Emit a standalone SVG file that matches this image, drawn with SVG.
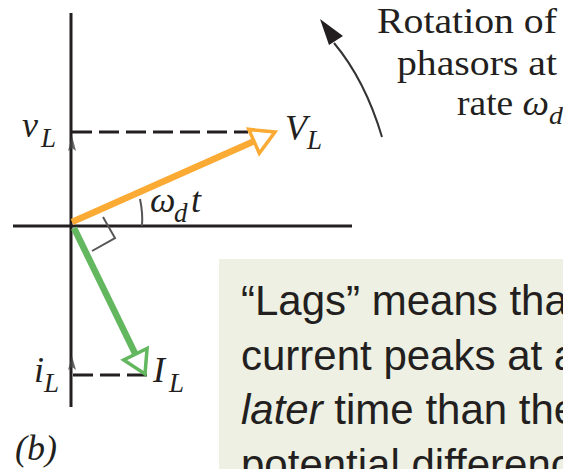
<svg xmlns="http://www.w3.org/2000/svg" width="563" height="469" viewBox="0 0 563 469">
<style>
.ax{stroke:#231F20;stroke-width:3;fill:none}
.dash{stroke:#231F20;stroke-width:3;stroke-dasharray:20 7;fill:none}
.serif{font-family:"Liberation Serif","Times New Roman",serif;fill:#231F20}
.it{font-style:italic}
.sans{font-family:"Liberation Sans",Arial,sans-serif;font-size:42px;fill:#231F20}
.mark{stroke:#555;stroke-width:2;fill:none}
.tick{fill:#444;opacity:0.8}
</style>
<rect width="563" height="469" fill="#fff"/>
<g id="note-box">
<rect x="219" y="259" width="344" height="210" fill="#EDF0E2"/>
<text class="sans" x="241" y="315">“Lags” means tha</text>
<text class="sans" x="241" y="369.5">current peaks at a</text>
<text class="sans" x="241" y="424"><tspan font-style="italic">later</tspan> time than the</text>
<text class="sans" x="241" y="478.5">potential differenc</text>
</g>
<g id="axes">
<line class="ax" x1="71" y1="13" x2="71" y2="407"/>
<line class="ax" x1="13" y1="226" x2="352" y2="226"/>
</g>
<g id="connectors">
<line class="dash" x1="72" y1="132" x2="248" y2="132"/>
<line class="dash" x1="73" y1="375" x2="148" y2="375"/>
<path class="tick" d="M72,136 L76,151 L72,148 L68,151 Z"/>
<path class="tick" d="M72,356 L76,370 L72,367 L68,370 Z"/>
<line x1="72" y1="222" x2="254" y2="141.3" stroke="#FBAA34" stroke-width="6.5"/>
<path d="M275,132 L259.3,153.2 L248.7,129.4 Z" fill="#fff" stroke="#FBAA34" stroke-width="3.5" stroke-linejoin="miter"/>
<line x1="74" y1="228" x2="135.4" y2="354.2" stroke="#63B75F" stroke-width="6.5"/>
<path d="M145,374 L147.1,348.5 L123.7,359.9 Z" fill="#fff" stroke="#63B75F" stroke-width="3.5"/>
<polyline class="mark" points="103,217 115,238 92,251"/>
<path class="mark" d="M142,226 Q143,213 140,199"/>
<path d="M382,137 Q365,80 334,43" stroke="#333" stroke-width="2" fill="none"/>
<path d="M320,19 L343,36 L329,45 Z" fill="#231F20"/>
</g>
<g id="labels">
<text class="serif it" x="22" y="137" font-size="36">v</text>
<text class="serif it" x="41" y="147" font-size="27">L</text>
<text class="serif it" x="285" y="140" font-size="36">V</text>
<text class="serif it" x="307" y="149" font-size="27">L</text>
<text class="serif it" x="150" y="212" font-size="36">ω</text>
<text class="serif it" x="174" y="222" font-size="27">d</text>
<text class="serif it" x="191" y="212" font-size="36">t</text>
<text class="serif it" x="34" y="382" font-size="36">i</text>
<text class="serif it" x="44" y="392" font-size="27">L</text>
<text class="serif it" x="153" y="382" font-size="36">I</text>
<text class="serif it" x="169" y="392" font-size="27">L</text>
<text class="serif it" x="15" y="460" font-size="36">(b)</text>
</g>
<g id="rotation-note">
<text class="serif" x="377" y="33" font-size="35" textLength="180" lengthAdjust="spacingAndGlyphs">Rotation of</text>
<text class="serif" x="397" y="75" font-size="35" textLength="160" lengthAdjust="spacingAndGlyphs">phasors at</text>
<text class="serif" x="457" y="115" font-size="35" textLength="106" lengthAdjust="spacingAndGlyphs">rate <tspan font-style="italic">ω</tspan><tspan font-style="italic" font-size="26" dy="9">d</tspan></text>
</g>
</svg>
